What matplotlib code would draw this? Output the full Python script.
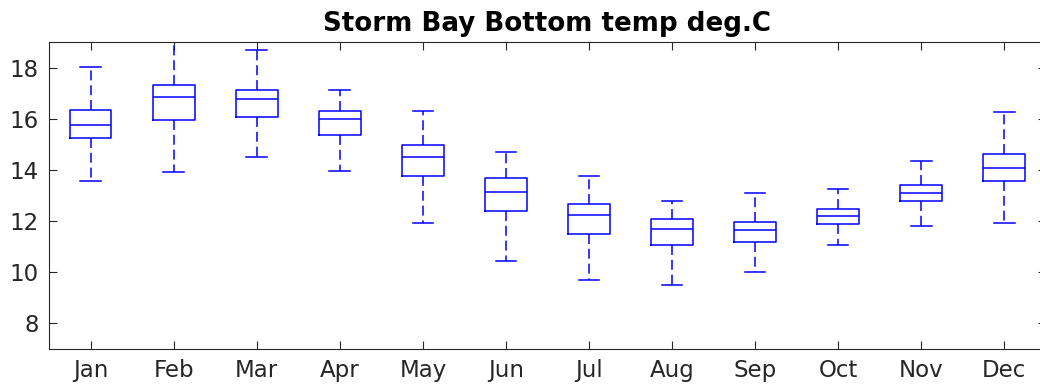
import matplotlib
matplotlib.use("Agg")
import matplotlib.pyplot as plt

months = ["Jan", "Feb", "Mar", "Apr", "May", "Jun", "Jul", "Aug", "Sep", "Oct", "Nov", "Dec"]
whislo = [13.58, 13.93, 14.50, 13.97, 11.94, 10.44, 9.70, 9.49, 10.01, 11.07, 11.81, 11.94]
q1     = [15.25, 15.95, 16.07, 15.37, 13.75, 12.39, 11.51, 11.05, 11.19, 11.90, 12.78, 13.58]
median = [15.77, 16.87, 16.78, 15.99, 14.50, 13.15, 12.25, 11.69, 11.64, 12.21, 13.10, 14.06]
q3     = [16.34, 17.32, 17.13, 16.29, 14.97, 13.69, 12.67, 12.07, 11.98, 12.46, 13.40, 14.63]
whishi = [18.03, 19.30, 18.70, 17.13, 16.29, 14.71, 13.75, 12.78, 13.10, 13.25, 14.35, 16.26]
yticks = [8, 10, 12, 14, 16, 18]
title = "Storm Bay Bottom temp deg.C"

stats = [
    dict(label=m, whislo=a, q1=b, med=c, q3=d, whishi=e, fliers=[])
    for m, a, b, c, d, e in zip(months, whislo, q1, median, q3, whishi)
]

fig = plt.figure(figsize=(10.4, 3.88), dpi=100)
ax = fig.add_axes([0.0473, 0.1013, 0.9582, 0.7897])

blue = (0, 0, 1)
lw = 1.1
ax.bxp(stats, positions=range(1, len(months) + 1), widths=0.5, capwidths=0.25,
       showfliers=False, manage_ticks=False,
       boxprops=dict(color=blue, linewidth=lw),
       medianprops=dict(color=blue, linewidth=lw),
       whiskerprops=dict(color=blue, linewidth=lw, linestyle=(0, (6.5, 3.2))),
       capprops=dict(color=blue, linewidth=lw))

ax.set_xlim(0.5, len(months) + 0.5)
ax.set_ylim(7, 19)
ax.set_xticks(range(1, len(months) + 1))
ax.set_xticklabels(months)
ax.set_yticks(yticks)

dark = "#262626"
for s in ax.spines.values():
    s.set_color(dark)
    s.set_linewidth(0.8)
ax.tick_params(direction="in", length=6, width=0.8, color=dark, labelcolor=dark,
               labelsize=16.5, top=True, right=True, pad=7.5)
ax.set_title(title, fontsize=18.8, fontweight="bold", pad=8)

fig.savefig("out.png", dpi=100)
